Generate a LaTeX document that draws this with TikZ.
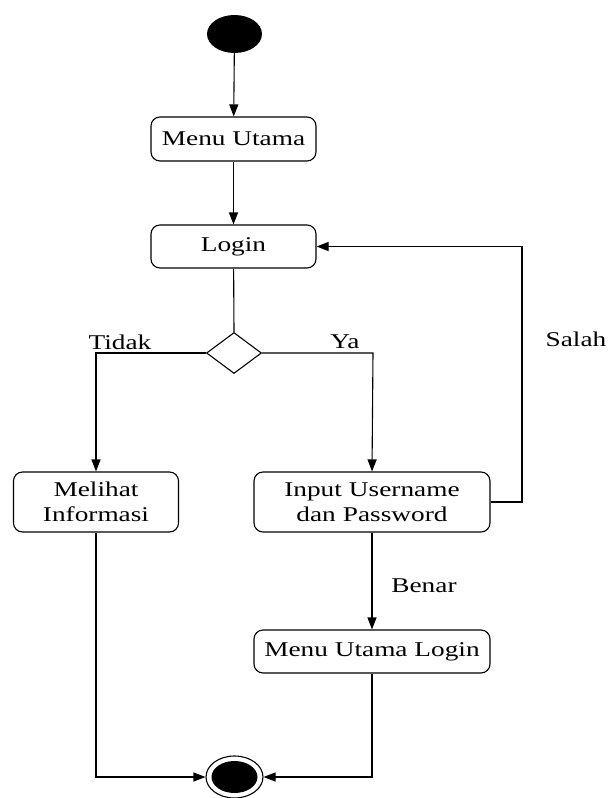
\documentclass[tikz,border=0pt]{standalone}
\usepackage{fontspec}
\setmainfont{Liberation Serif}[FakeStretch=1.3]
\usetikzlibrary{arrows.meta,shapes.geometric}
\begin{document}
\begin{tikzpicture}[x=1pt,y=-1pt,
  every node/.style={font=\fontsize{21}{21}\selectfont},
  act/.style={draw,line width=1.1pt,rounded corners=9pt,inner sep=0pt,align=center},
  flow/.style={draw,line width=1.1pt,-{Triangle[length=12pt,width=9pt]}},
  plain/.style={draw,line width=1.1pt},
  lbl/.style={inner sep=0pt}]
\useasboundingbox (0,0) rectangle (609,798);
% start
\node[ellipse,fill=black,minimum width=55pt,minimum height=38pt,inner sep=0pt] (start) at (234.5,34) {};
% activities
\node[act,minimum width=165pt,minimum height=44pt] (menu) at (233.5,139) {Menu Utama};
\node[act,minimum width=165pt,minimum height=43pt] (login) at (233.5,246.5) {Login};
\node[diamond,draw,line width=1.1pt,minimum width=55pt,minimum height=41pt,inner sep=0pt,aspect=1.34] (dec) at (234,353) {};
\node[act,minimum width=165pt,minimum height=60pt,text width=160pt,font=\fontsize{21}{25}\selectfont] (info) at (96,502) {Melihat\\Informasi};
\node[act,minimum width=236pt,minimum height=60pt,text width=230pt,font=\fontsize{21}{25}\selectfont] (input) at (372,502) {Input Username\\dan Password};
\node[act,minimum width=236pt,minimum height=43pt] (mlogin) at (372,651.5) {Menu Utama Login};
% end
\node[ellipse,draw,line width=1.1pt,minimum width=57pt,minimum height=42pt,inner sep=0pt] (end) at (234.5,777) {};
\node[ellipse,fill=black,minimum width=46pt,minimum height=32pt,inner sep=0pt] (endin) at (234.5,777) {};
% coordinates
\coordinate (tl) at (96,353);
\coordinate (tr) at (373,353);
\coordinate (sr) at (522,502);
\coordinate (st) at (522,246.5);
\coordinate (bl) at (96,777);
\coordinate (br) at (372,777);
% connectors
\path[flow] (start) -- (menu);
\path[flow] (menu) -- (login);
\path[plain] (login) -- (dec.north);
\path[flow] (dec.west) -- (tl) -- (info.north);
\path[flow] (dec.east) -- (tr) -- (input.north);
\path[flow] (input.east) -- (sr) -- (st) -- (login.east);
\path[flow] (input) -- (mlogin);
\path[flow] (info.south) -- (bl) -- (end.west);
\path[flow] (mlogin.south) -- (br) -- (end.east);
% labels
\node[lbl] (tidak) at (120,342) {Tidak};
\node[lbl] (ya) at (345,342) {Ya};
\node[lbl] (salah) at (576,339) {Salah};
\node[lbl] (benar) at (424,586) {Benar};
\end{tikzpicture}
\end{document}
